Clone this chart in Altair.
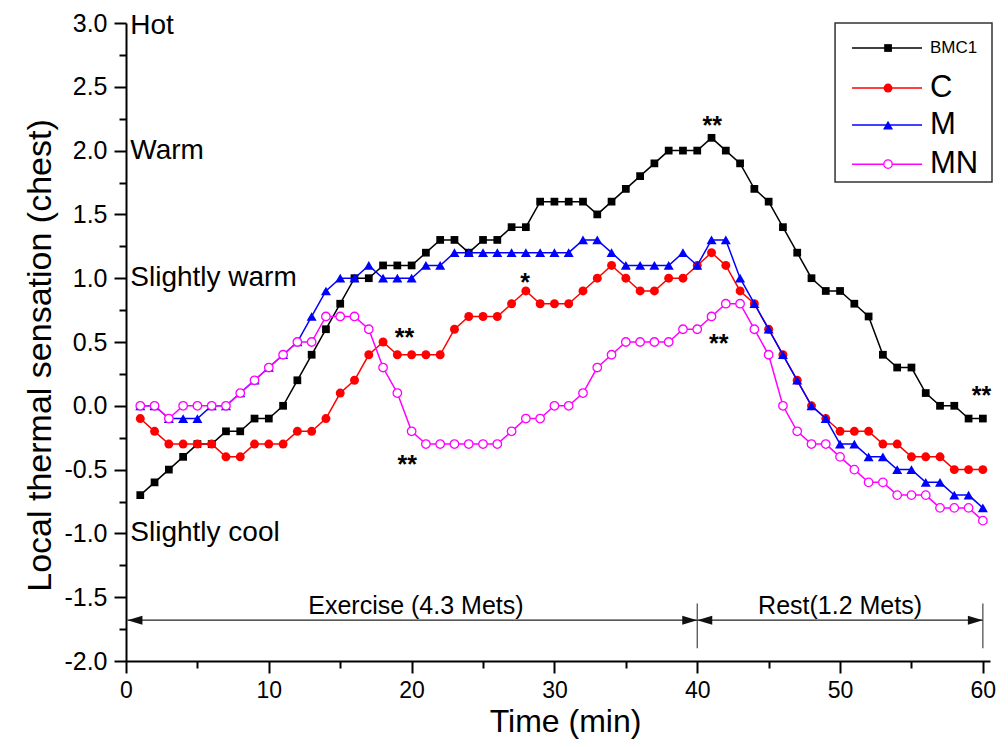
import altair as alt
import pandas as pd

# ---------------- data ----------------
minutes = list(range(1, 61))
bmc1 = [-0.7, -0.6, -0.5, -0.4, -0.3, -0.3, -0.2, -0.2, -0.1, -0.1,
        0.0, 0.2, 0.4, 0.6, 0.8, 1.0, 1.0, 1.1, 1.1, 1.1,
        1.2, 1.3, 1.3, 1.2, 1.3, 1.3, 1.4, 1.4, 1.6, 1.6,
        1.6, 1.6, 1.5, 1.6, 1.7, 1.8, 1.9, 2.0, 2.0, 2.0,
        2.1, 2.0, 1.9, 1.7, 1.6, 1.4, 1.2, 1.0, 0.9, 0.9,
        0.8, 0.7, 0.4, 0.3, 0.3, 0.1, 0.0, 0.0, -0.1, -0.1]
c_vals = [-0.1, -0.2, -0.3, -0.3, -0.3, -0.3, -0.4, -0.4, -0.3, -0.3,
          -0.3, -0.2, -0.2, -0.1, 0.1, 0.2, 0.4, 0.5, 0.4, 0.4,
          0.4, 0.4, 0.6, 0.7, 0.7, 0.7, 0.8, 0.9, 0.8, 0.8,
          0.8, 0.9, 1.0, 1.1, 1.0, 0.9, 0.9, 1.0, 1.0, 1.1,
          1.2, 1.1, 0.9, 0.8, 0.6, 0.4, 0.2, 0.0, -0.1, -0.2,
          -0.2, -0.2, -0.3, -0.3, -0.4, -0.4, -0.4, -0.5, -0.5, -0.5]
m_vals = [0.0, 0.0, -0.1, -0.1, -0.1, 0.0, 0.0, 0.1, 0.2, 0.3,
          0.4, 0.5, 0.7, 0.9, 1.0, 1.0, 1.1, 1.0, 1.0, 1.0,
          1.1, 1.1, 1.2, 1.2, 1.2, 1.2, 1.2, 1.2, 1.2, 1.2,
          1.2, 1.3, 1.3, 1.2, 1.1, 1.1, 1.1, 1.1, 1.2, 1.1,
          1.3, 1.3, 1.0, 0.8, 0.6, 0.4, 0.2, 0.0, -0.1, -0.3,
          -0.3, -0.4, -0.4, -0.5, -0.5, -0.6, -0.6, -0.7, -0.7, -0.8]
mn_vals = [0.0, 0.0, -0.1, 0.0, 0.0, 0.0, 0.0, 0.1, 0.2, 0.3,
           0.4, 0.5, 0.5, 0.7, 0.7, 0.7, 0.6, 0.3, 0.1, -0.2,
           -0.3, -0.3, -0.3, -0.3, -0.3, -0.3, -0.2, -0.1, -0.1, 0.0,
           0.0, 0.1, 0.3, 0.4, 0.5, 0.5, 0.5, 0.5, 0.6, 0.6,
           0.7, 0.8, 0.8, 0.6, 0.4, 0.0, -0.2, -0.3, -0.3, -0.4,
           -0.5, -0.6, -0.6, -0.7, -0.7, -0.7, -0.8, -0.8, -0.8, -0.9]

series_names = ["BMC1", "C", "M", "MN"]
series_values = [bmc1, c_vals, m_vals, mn_vals]
series_colors = ["#000000", "#ff0000", "#0000ff", "#ff00ff"]

x_ticks = list(range(0, 61, 5))
y_ticks = [-2 + 0.25 * i for i in range(21)]

level_labels = ["Hot", "Warm", "Slightly warm", "Slightly cool"]
level_values = [2.98, 2.0, 1.0, -1.0]

star_text = ["**", "**", "*", "**", "**", "**"]
star_x = [41.05, 19.5, 27.95, 19.7, 41.5, 59.9]
star_y = [2.24, 0.58, 1.01, -0.42, 0.53, 0.12]

phase_labels = ["Exercise (4.3 Mets)", "Rest(1.2 Mets)"]
phase_start = [0.1, 40]
phase_end = [40, 60]
phase_mid = [20.3, 50.0]

# ---------------- style ----------------
FONT = "Liberation Sans, Arial, Helvetica, sans-serif"
xscale = alt.Scale(domain=[0, 60.5], nice=False, zero=False)
yscale = alt.Scale(domain=[-2, 3], nice=False, zero=False)

x_axis = alt.Axis(
    values=x_ticks,
    labelExpr="datum.value % 10 == 0 ? datum.label : ''",
    tickSize={"condition": {"test": "datum.value % 10 != 0", "value": 7}, "value": 12},
    title="Time (min)", labelFontSize=23, titleFontSize=32,
    labelPadding=6, titlePadding=4, titleX=439, labelFlush=False, labelOverlap=False,
)
y_axis = alt.Axis(
    values=y_ticks,
    labelExpr="abs(datum.value % 0.5) < 0.001 ? (datum.value < 0 ? '-' : '') + format(abs(datum.value), '.1f') : ''",
    tickSize={"condition": {"test": "abs(datum.value % 0.5) > 0.001", "value": 7}, "value": 12},
    title="Local thermal sensation (chest)", labelFontSize=25, titleFontSize=34,
    labelPadding=7, titlePadding=6, titleY=332, labelFlush=False, labelOverlap=False,
)


def X(field):
    return alt.X(f"{field}:Q", scale=xscale, axis=x_axis)


def Y(field):
    return alt.Y(f"{field}:Q", scale=yscale, axis=y_axis)


layers = []

# phase arrows
arrow_y = -1.68
phase_df = pd.DataFrame({"s": phase_start, "e": phase_end, "ay": [arrow_y] * 2,
                         "lab": phase_labels, "mid": phase_mid, "ly": [-1.57] * 2})
layers.append(alt.Chart(phase_df).mark_rule(color="#222222", strokeWidth=1.2).encode(
    x=X("s"), x2="e", y=Y("ay")))
bound_df = pd.DataFrame({"bx": [40, 60], "b1": [-1.9, -1.9], "b2": [-1.55, -1.55]})
layers.append(alt.Chart(bound_df).mark_rule(color="#444444", strokeWidth=1.2).encode(
    x=X("bx"), y=Y("b1"), y2="b2"))
head_df = pd.DataFrame({"hx": [phase_start[0], phase_end[0], phase_start[1], phase_end[1]],
                        "hy": [arrow_y] * 4, "dir": ["L", "R", "L", "R"]})
layers.append(alt.Chart(head_df).mark_point(filled=True, color="#111111", opacity=1, size=225).encode(
    x=X("hx"), y=Y("hy"),
    shape=alt.Shape("dir:N", scale=alt.Scale(domain=["L", "R"],
                                             range=["M0,0L2,-0.6L2,0.6Z", "M0,0L-2,-0.6L-2,0.6Z"]),
                    legend=None)))
layers.append(alt.Chart(phase_df).mark_text(font=FONT, fontSize=25, color="black",
                                            baseline="middle", align="center").encode(
    x=X("mid"), y=Y("ly"), text="lab:N"))

# level annotations
level_df = pd.DataFrame({"lab": level_labels, "ly": level_values, "lx": [0.3] * 4})
layers.append(alt.Chart(level_df).mark_text(font=FONT, fontSize=28, color="black",
                                            baseline="middle", align="left").encode(
    x=X("lx"), y=Y("ly"), text="lab:N"))

# series
long_rows = []
for name, vals in zip(series_names, series_values):
    for t, v in zip(minutes, vals):
        long_rows.append({"t": t, "v": v, "series": name})
df = pd.DataFrame(long_rows)

marker_specs = {
    "BMC1": dict(shape="square", size=60),
    "C": dict(shape="circle", size=80),
    "M": dict(shape="triangle-up", size=100),
    "MN": dict(shape="circle", size=72),
}
for name, col in zip(series_names, series_colors):
    base = alt.Chart(df).transform_filter(alt.datum.series == name)
    layers.append(base.mark_line(color=col, strokeWidth=1.5).encode(x=X("t"), y=Y("v")))
    spec = marker_specs[name]
    if name == "MN":
        pm = base.mark_point(shape=spec["shape"], size=spec["size"], filled=True, fill="white",
                             stroke=col, strokeWidth=1.3, opacity=1)
    else:
        pm = base.mark_point(shape=spec["shape"], size=spec["size"], filled=True, color=col, opacity=1)
    layers.append(pm.encode(x=X("t"), y=Y("v")))

# significance stars
star_df = pd.DataFrame({"sx": star_x, "sy": star_y, "txt": star_text})
layers.append(alt.Chart(star_df).mark_text(font=FONT, fontSize=25, fontWeight="bold", color="black",
                                           baseline="alphabetic", align="center", dy=14).encode(
    x=X("sx"), y=Y("sy"), text="txt:N"))

# legend box
box_df = pd.DataFrame({"x1": [49.65], "x2": [60.64], "y1": [3.0], "y2": [1.753]})
layers.append(alt.Chart(box_df).mark_rect(fill="white", stroke="#333333", strokeWidth=1.5).encode(
    x=X("x1"), x2="x2", y=Y("y1"), y2="y2"))
legend_y = [2.804, 2.49, 2.20, 1.894]
legend_fs = [17, 31, 31, 31]
for name, col, ly, fs in zip(series_names, series_colors, legend_y, legend_fs):
    row = pd.DataFrame({"a": [50.84], "b": [55.74], "m": [53.36], "tx": [56.3], "ly": [ly], "lab": [name]})
    rc = alt.Chart(row)
    layers.append(rc.mark_rule(color=col, strokeWidth=1.5).encode(x=X("a"), x2="b", y=Y("ly")))
    spec = marker_specs[name]
    if name == "MN":
        pm = rc.mark_point(shape=spec["shape"], size=spec["size"], filled=True, fill="white",
                           stroke=col, strokeWidth=1.3, opacity=1)
    else:
        pm = rc.mark_point(shape=spec["shape"], size=spec["size"], filled=True, color=col, opacity=1)
    layers.append(pm.encode(x=X("m"), y=Y("ly")))
    layers.append(rc.mark_text(font=FONT, fontSize=fs, color="black", baseline="middle", align="left").encode(
        x=X("tx"), y=Y("ly"), text="lab:N"))

chart = alt.layer(*layers).properties(
    width=864, height=638,
    padding={"left": 118, "top": 15, "right": 10, "bottom": 84},
    autosize=alt.AutoSizeParams(type="none"),
).configure_view(stroke=None).configure_axis(
    grid=False, domainColor="black", domainWidth=2, tickColor="black", tickWidth=2,
    labelColor="black", titleColor="black", labelFont=FONT, titleFont=FONT,
    titleFontWeight="normal",
)

chart.save("out.html", embed_options={"renderer": "svg", "actions": False})
